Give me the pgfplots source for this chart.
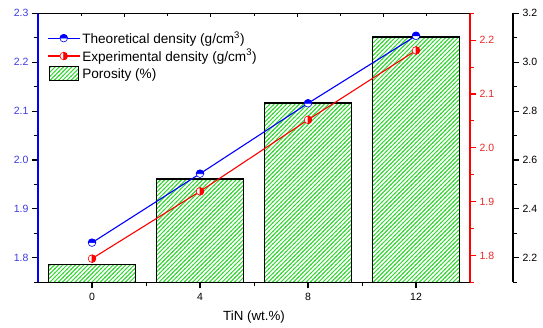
\documentclass[border=0pt]{standalone}
\usepackage{pgfplots}
\pgfplotsset{compat=1.18}
\usepackage{fontspec}
\setmainfont{Liberation Sans}
\usetikzlibrary{patterns,plotmarks}
\definecolor{hatch}{RGB}{45,215,45}
\definecolor{lblblue}{RGB}{60,60,225}
\definecolor{lblred}{RGB}{230,40,40}
\pgfdeclarepatternformonly{widelines}{\pgfqpoint{-1bp}{-1bp}}{\pgfqpoint{5.2bp}{5.2bp}}{\pgfqpoint{4.2bp}{4.2bp}}{%
  \pgfsetlinewidth{0.95bp}%
  \pgfpathmoveto{\pgfqpoint{-0.5bp}{-0.5bp}}%
  \pgfpathlineto{\pgfqpoint{4.7bp}{4.7bp}}%
  \pgfusepath{stroke}%
}
\pgfdeclareplotmark{halftop}{%
  \pgfpathcircle{\pgfpointorigin}{\pgfplotmarksize}%
  \pgfsetfillcolor{white}\pgfusepathqfillstroke
  \pgfpathmoveto{\pgfqpoint{\pgfplotmarksize}{0pt}}%
  \pgfpatharc{0}{180}{\pgfplotmarksize}%
  \pgfpathclose
  \pgfsetfillcolor{blue}\pgfusepathqfillstroke
}
\pgfdeclareplotmark{halfright}{%
  \pgfpathcircle{\pgfpointorigin}{\pgfplotmarksize}%
  \pgfsetfillcolor{white}\pgfusepathqfillstroke
  \pgfpathmoveto{\pgfqpoint{0pt}{\pgfplotmarksize}}%
  \pgfpatharc{90}{-90}{\pgfplotmarksize}%
  \pgfpathclose
  \pgfsetfillcolor{red}\pgfusepathqfillstroke
}
\begin{document}
\begin{tikzpicture}
\path[use as bounding box] (-38bp,-45.5bp) rectangle (505bp,282.3bp);
\pgfplotsset{
  every axis/.append style={
    scale only axis, width=432bp, height=269bp,
    xmin=-0.5, xmax=3.5,
    tick label style={font=\fontsize{10.5bp}{12bp}\selectfont},
    label style={font=\fontsize{13.3bp}{15bp}\selectfont},
    major tick length=6bp, minor tick length=3.5bp,
    tick align=outside,
    /pgf/number format/assume math mode=true,
    yticklabel style={/pgf/number format/fixed,/pgf/number format/fixed zerofill,/pgf/number format/precision=1},
    every tick/.style={line width=1.1bp},
    every minor tick/.style={line width=1bp},
  },
}
% porosity bars
\begin{axis}[hide axis, ymin=2.1, ymax=3.2]
\addplot[ybar, bar width=0.8, draw=black, line width=1.3bp,
  pattern=widelines, pattern color=hatch]
  coordinates {(0,2.174) (1,2.522) (2,2.833) (3,3.103)};
\end{axis}
% offset porosity axis
\begin{axis}[at={(43bp,0)}, axis x line=none, axis y line*=right,
  ymin=2.1, ymax=3.2, xmin=0, xmax=1,
  ytick={2.2,2.4,2.6,2.8,3.0,3.2},
  minor ytick={2.1,2.3,2.5,2.7,2.9,3.1},
  y axis line style={line width=1.3bp,black},
  yticklabel style={text=black}]
\addplot[draw=none] coordinates {(0.5,2.5)};
\end{axis}
% experimental density (red axis)
\begin{axis}[axis x line=none, axis y line*=right,
  ymin=1.75, ymax=2.25,
  ytick={1.8,1.9,2.0,2.1,2.2},
  minor ytick={1.75,1.85,1.95,2.05,2.15,2.25},
  y axis line style={line width=1.3bp,red},
  ytick style={red},
  yticklabel style={text=lblred}]
\addplot[red, line width=1.1bp, mark=halfright, mark size=3.8bp,
  mark options={line width=0.6bp}]
  coordinates {(0,1.794) (1,1.919) (2,2.052) (3,2.181)};
\end{axis}
% theoretical density (main axis)
\begin{axis}[axis x line*=bottom, axis y line*=left,
  ymin=1.75, ymax=2.3,
  ytick={1.8,1.9,2.0,2.1,2.2,2.3},
  minor ytick={1.75,1.85,1.95,2.05,2.15,2.25},
  x axis line style={line width=1.3bp,black},
  y axis line style={line width=1.3bp,blue},
  yticklabel style={text=lblblue},
  xtick={0,1,2,3}, xticklabels={0,4,8,12},
  minor xtick={0.5,1.5,2.5},
  xlabel={TiN (wt.\%)},
  xlabel style={at={(axis description cs:0.5,0)}, anchor=center, yshift=-35bp},
  xticklabel style={yshift=-1bp},
  legend style={at={(rel axis cs:0,1)}, anchor=north west,
    xshift=9bp, yshift=-17bp, draw=none, fill=none, inner sep=0pt,
    font=\fontsize{13.6bp}{15.5bp}\selectfont, row sep=2.5bp,
    nodes={inner xsep=2bp, inner ysep=1bp}},
  legend cell align=left,
  legend image code/.code={\draw[mark repeat=2,mark phase=2,#1] plot coordinates {(0bp,0bp) (16bp,0bp) (32bp,0bp)};}]
\addplot[blue, line width=1.1bp, mark=halftop, mark size=3.8bp,
  mark options={line width=0.6bp}]
  coordinates {(0,1.831) (1,1.972) (2,2.116) (3,2.254)};
\addlegendimage{red, line width=1.1bp, mark=halfright, mark size=3.8bp, mark options={line width=0.6bp}}
\addlegendimage{legend image code/.code={\draw[black, line width=1.3bp, pattern=widelines, pattern color=hatch] (1.5bp,-7bp) rectangle (30.5bp,7bp);}}
\legend{Theoretical density (g/cm\textsuperscript{3}),Experimental density (g/cm\textsuperscript{3}),Porosity (\%)}
\end{axis}
% top axis ticks
\begin{axis}[axis x line*=top, axis y line=none, xmin=0, xmax=10,
  ymin=0, ymax=1, tick align=inside,
  xtick={2,4,6,8}, minor xtick={1,3,5,7,9}, xticklabels={},
  major tick length=4bp, minor tick length=2.5bp,
  x axis line style={line width=1.3bp,black}]
\addplot[draw=none] coordinates {(5,0.5)};
\end{axis}
\end{tikzpicture}
\end{document}
